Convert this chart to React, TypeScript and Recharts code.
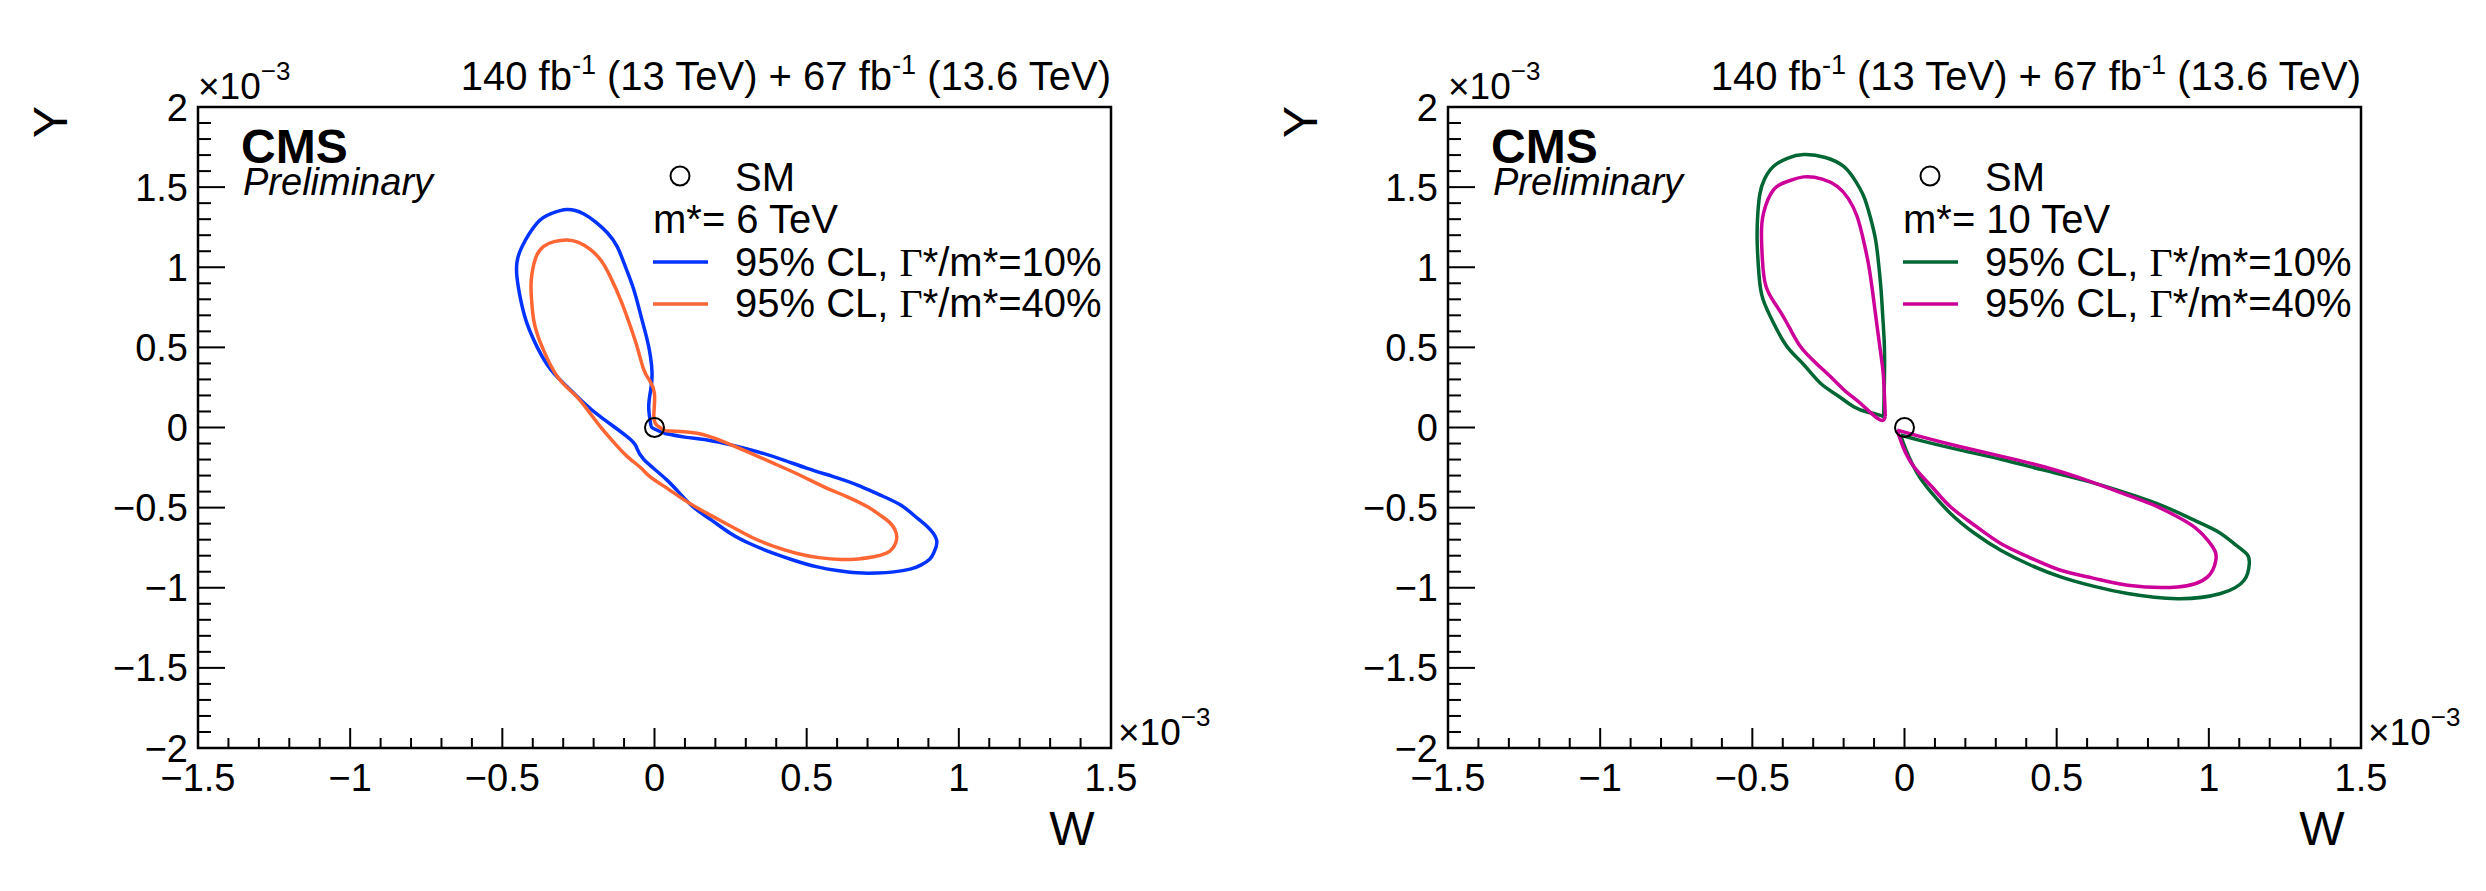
import React from "react";
import {
  ScatterChart,
  Scatter,
  XAxis,
  YAxis,
  ReferenceArea,
} from "recharts";

const font = "'Liberation Sans', Arial, Helvetica, sans-serif";

// ─── Axis ticks (units of 1e-3) ───────────────────────────────────────────────
const X_TICKS = [
  -1.5, -1.4, -1.3, -1.2, -1.1, -1.0, -0.9, -0.8, -0.7, -0.6, -0.5, -0.4, -0.3, -0.2, -0.1,
  0, 0.1, 0.2, 0.3, 0.4, 0.5, 0.6, 0.7, 0.8, 0.9, 1.0, 1.1, 1.2, 1.3, 1.4, 1.5,
];
const Y_TICKS = [
  -2.0, -1.9, -1.8, -1.7, -1.6, -1.5, -1.4, -1.3, -1.2, -1.1, -1.0, -0.9, -0.8, -0.7, -0.6,
  -0.5, -0.4, -0.3, -0.2, -0.1, 0, 0.1, 0.2, 0.3, 0.4, 0.5, 0.6, 0.7, 0.8, 0.9, 1.0, 1.1,
  1.2, 1.3, 1.4, 1.5, 1.6, 1.7, 1.8, 1.9, 2.0,
];

// ─── Contours, left panel (m* = 6 TeV) ───────────────────────────────────────
const CL95_6TEV_W10: [number, number][] = [
  [0.031, -0.036], [-0.005, -0.005], [-0.013, 0.026], [-0.019, 0.13], [-0.012, 0.24],
  [-0.008, 0.339], [-0.013, 0.44], [-0.024, 0.547], [-0.045, 0.7], [-0.068, 0.86],
  [-0.095, 1.0], [-0.123, 1.13], [-0.155, 1.215], [-0.189, 1.276], [-0.235, 1.335],
  [-0.287, 1.36], [-0.34, 1.335], [-0.386, 1.276], [-0.435, 1.13], [-0.452, 1.03],
  [-0.452, 0.94], [-0.44, 0.8], [-0.419, 0.65], [-0.385, 0.5], [-0.34, 0.36],
  [-0.276, 0.234], [-0.23, 0.15], [-0.178, 0.068], [-0.09, -0.057], [-0.06, -0.12],
  [-0.035, -0.2], [0.042, -0.33], [0.118, -0.48], [0.185, -0.575], [0.25, -0.661],
  [0.32, -0.73], [0.392, -0.786], [0.46, -0.83], [0.535, -0.87], [0.6, -0.893],
  [0.667, -0.907], [0.73, -0.908], [0.787, -0.901], [0.84, -0.884], [0.875, -0.859],
  [0.905, -0.82], [0.919, -0.776], [0.927, -0.703], [0.897, -0.62], [0.86, -0.56],
  [0.809, -0.484], [0.74, -0.42], [0.667, -0.359], [0.585, -0.305], [0.502, -0.255],
  [0.42, -0.2], [0.338, -0.151], [0.255, -0.11], [0.173, -0.078], [0.1, -0.06],
  [0.031, -0.036],
];

const CL95_6TEV_W40: [number, number][] = [
  [0.036, -0.02], [0.005, 0.02], [-0.002, 0.089], [0.0, 0.21], [-0.015, 0.29],
  [-0.035, 0.36], [-0.055, 0.49], [-0.079, 0.63], [-0.11, 0.79], [-0.145, 0.94],
  [-0.175, 1.04], [-0.21, 1.11], [-0.25, 1.155], [-0.287, 1.17], [-0.33, 1.16],
  [-0.364, 1.13], [-0.39, 1.06], [-0.405, 0.92], [-0.404, 0.8], [-0.397, 0.67],
  [-0.383, 0.57], [-0.364, 0.48], [-0.32, 0.32], [-0.265, 0.21], [-0.22, 0.11],
  [-0.178, 0.005], [-0.135, -0.09], [-0.09, -0.18], [-0.046, -0.25], [-0.013, -0.31],
  [0.042, -0.38], [0.096, -0.45], [0.173, -0.536], [0.245, -0.61], [0.316, -0.682],
  [0.39, -0.74], [0.469, -0.786], [0.54, -0.812], [0.612, -0.824], [0.67, -0.82],
  [0.721, -0.807], [0.76, -0.785], [0.782, -0.755], [0.796, -0.682], [0.776, -0.599],
  [0.74, -0.545], [0.7, -0.495], [0.63, -0.43], [0.557, -0.37], [0.475, -0.295],
  [0.392, -0.224], [0.31, -0.155], [0.228, -0.089], [0.14, -0.036], [0.036, -0.02],
];

// ─── Contours, right panel (m* = 10 TeV), two lobes each ────────────────────
const CL95_10TEV_W10_UP: [number, number][] = [
  [-0.068, 0.068], [-0.068, 0.109], [-0.066, 0.3], [-0.066, 0.505], [-0.071, 0.68],
  [-0.077, 0.859], [-0.085, 1.02], [-0.095, 1.172], [-0.112, 1.31], [-0.134, 1.443],
  [-0.165, 1.55], [-0.2, 1.63], [-0.26, 1.685], [-0.331, 1.703], [-0.385, 1.68],
  [-0.43, 1.63], [-0.46, 1.55], [-0.476, 1.45], [-0.483, 1.3], [-0.484, 1.15],
  [-0.478, 0.95], [-0.465, 0.8], [-0.43, 0.65], [-0.386, 0.505], [-0.33, 0.39],
  [-0.276, 0.276], [-0.22, 0.2], [-0.167, 0.13], [-0.12, 0.095], [-0.095, 0.085],
  [-0.068, 0.068],
];
const CL95_10TEV_W10_LOW: [number, number][] = [
  [-0.013, -0.047], [0.06, -0.085], [0.184, -0.141], [0.32, -0.2], [0.458, -0.266],
  [0.6, -0.335], [0.733, -0.411], [0.85, -0.49], [0.952, -0.578], [1.03, -0.65],
  [1.083, -0.724], [1.125, -0.79], [1.133, -0.849], [1.116, -0.953], [1.039, -1.036],
  [0.897, -1.068], [0.733, -1.036], [0.62, -0.99], [0.513, -0.932], [0.41, -0.855],
  [0.316, -0.766], [0.23, -0.66], [0.151, -0.536], [0.09, -0.41], [0.042, -0.286],
  [0.005, -0.14], [-0.013, -0.047],
];
const CL95_10TEV_W40_UP: [number, number][] = [
  [-0.063, 0.068], [-0.066, 0.2], [-0.07, 0.339], [-0.08, 0.49], [-0.09, 0.63],
  [-0.103, 0.82], [-0.117, 1.005], [-0.135, 1.17], [-0.156, 1.318], [-0.185, 1.43],
  [-0.221, 1.505], [-0.27, 1.55], [-0.331, 1.564], [-0.385, 1.535], [-0.43, 1.484],
  [-0.463, 1.339], [-0.47, 1.2], [-0.467, 1.05], [-0.455, 0.88], [-0.419, 0.755],
  [-0.38, 0.63], [-0.342, 0.505], [-0.29, 0.4], [-0.232, 0.297], [-0.19, 0.22],
  [-0.145, 0.151], [-0.084, 0.051], [-0.063, 0.068],
];
const CL95_10TEV_W40_LOW: [number, number][] = [
  [-0.024, -0.016], [0.06, -0.06], [0.184, -0.12], [0.32, -0.18], [0.458, -0.245],
  [0.6, -0.33], [0.733, -0.422], [0.82, -0.485], [0.897, -0.557], [0.955, -0.625],
  [0.996, -0.703], [1.02, -0.77], [1.023, -0.828], [0.996, -0.932], [0.897, -0.995],
  [0.733, -0.984], [0.62, -0.94], [0.513, -0.891], [0.41, -0.81], [0.316, -0.724],
  [0.23, -0.61], [0.151, -0.495], [0.09, -0.37], [0.031, -0.245], [-0.005, -0.12],
  [-0.024, -0.016],
];

const SM_POINT: [number, number][] = [[0, 0]];

const LEGEND_LABELS = ["95% CL, Γ*/m*=10%", "95% CL, Γ*/m*=40%"];

// ─── Layout ──────────────────────────────────────────────────────────────────
const H = 891;
const PLOT_LEFT = 198;
const PLOT_TOP = 107;
const PLOT_W = 913;
const PLOT_BOTTOM = 748;
const X_AXIS_H = 60;
const Y_AXIS_W = 80;

const toPts = (arr: [number, number][]) => arr.map(([x, y]) => ({ x, y }));

const isMajor = (v: number) => Math.abs(v * 2 - Math.round(v * 2)) < 1e-6;
const fmt = (v: number) => {
  const r = Math.round(v * 10) / 10;
  if (r === 0) return "0";
  return r < 0 ? `\u2212${Math.abs(r)}` : `${r}`;
};

function XTick({ x, y, payload }: any) {
  const v = payload.value;
  const major = isMajor(v);
  return (
    <g>
      <line x1={x} x2={x} y1={y} y2={y - (major ? 20 : 10)} stroke="#000" strokeWidth={2} />
      {major && (
        <text x={x} y={y + 43} textAnchor="middle" fontSize={38} fontFamily={font} fill="#000">
          {fmt(v)}
        </text>
      )}
    </g>
  );
}

function YTick({ x, y, payload }: any) {
  const v = payload.value;
  const major = isMajor(v);
  return (
    <g>
      <line x1={x} x2={x + (major ? 27 : 13)} y1={y} y2={y} stroke="#000" strokeWidth={2} />
      {major && (
        <text x={x - 10} y={y + 13.5} textAnchor="end" fontSize={38} fontFamily={font} fill="#000">
          {fmt(v)}
        </text>
      )}
    </g>
  );
}

const NoDot = () => <g />;

function SmMarker({ cx, cy }: any) {
  return <circle cx={cx} cy={cy} r={9.5} fill="none" stroke="#000" strokeWidth={2} />;
}

interface Curve {
  data: [number, number][];
  color: string;
}

function Panel({
  left,
  width,
  curves,
  mass,
  colors,
}: {
  left: number;
  width: number;
  curves: Curve[];
  mass: string;
  colors: string[];
}) {
  const plotRight = PLOT_LEFT + PLOT_W;
  return (
    <div style={{ position: "absolute", left, top: 0, width, height: H }}>
      <ScatterChart
        width={width}
        height={H}
        margin={{
          top: PLOT_TOP,
          right: width - plotRight,
          bottom: H - PLOT_BOTTOM - X_AXIS_H,
          left: PLOT_LEFT - Y_AXIS_W,
        }}
      >
        <XAxis
          type="number"
          dataKey="x"
          domain={[-1.5, 1.5]}
          ticks={X_TICKS}
          interval={0}
          height={X_AXIS_H}
          tickSize={0}
          tickMargin={0}
          axisLine={false}
          tickLine={false}
          tick={<XTick />}
          allowDataOverflow
        />
        <YAxis
          type="number"
          dataKey="y"
          domain={[-2, 2]}
          ticks={Y_TICKS}
          interval={0}
          width={Y_AXIS_W}
          tickSize={0}
          tickMargin={0}
          axisLine={false}
          tickLine={false}
          tick={<YTick />}
          allowDataOverflow
        />
        <ReferenceArea
          x1={-1.5}
          x2={1.5}
          y1={-2}
          y2={2}
          fill="none"
          fillOpacity={0}
          stroke="#000"
          strokeWidth={2.5}
          ifOverflow="visible"
        />
        {curves.map((c, i) => (
          <Scatter
            key={i}
            data={toPts(c.data)}
            line={{ stroke: c.color, strokeWidth: 3.5 }}
            lineJointType="natural"
            shape={<NoDot />}
            fill={c.color}
            isAnimationActive={false}
          />
        ))}
        <Scatter data={toPts(SM_POINT)} shape={<SmMarker />} isAnimationActive={false} />
      </ScatterChart>

      <svg
        width={width}
        height={H}
        style={{ position: "absolute", left: 0, top: 0, pointerEvents: "none" }}
        fontFamily={font}
      >
        {/* luminosity header */}
        <text x={plotRight} y={90} textAnchor="end" fontSize={40} fill="#000">
          140 fb
          <tspan dy={-16} fontSize={27}>-1</tspan>
          <tspan dy={16}> (13 TeV) + 67 fb</tspan>
          <tspan dy={-16} fontSize={27}>-1</tspan>
          <tspan dy={16}> (13.6 TeV)</tspan>
        </text>

        {/* axis exponents */}
        <text x={PLOT_LEFT} y={99} fontSize={37} fill="#000">
          ×10
          <tspan dy={-19} fontSize={26}>−3</tspan>
        </text>
        <text x={plotRight + 7} y={745} fontSize={37} fill="#000">
          ×10
          <tspan dy={-19} fontSize={26}>−3</tspan>
        </text>

        {/* axis titles */}
        <text x={67} y={122} fontSize={48} textAnchor="middle" transform="rotate(-90, 67, 122)" fill="#000">
          Y
        </text>
        <text x={1072} y={845} fontSize={48} textAnchor="middle" fill="#000">
          W
        </text>

        {/* CMS label */}
        <text x={241} y={163} fontSize={48} fontWeight="bold" fill="#000">
          CMS
        </text>
        <text x={243} y={195} fontSize={38} fontStyle="italic" fill="#000">
          Preliminary
        </text>

        {/* legend */}
        <circle cx={680} cy={176} r={9.5} fill="none" stroke="#000" strokeWidth={2} />
        <text x={735} y={191} fontSize={40} fill="#000">SM</text>
        <text x={653} y={233} fontSize={40} fill="#000">{`m*= ${mass} TeV`}</text>
        {LEGEND_LABELS.map((lab, i) => (
          <g key={lab}>
            <line x1={653} x2={708} y1={262 + i * 42} y2={262 + i * 42} stroke={colors[i]} strokeWidth={3.5} />
            <text x={735} y={276 + i * 41} fontSize={40} fill="#000">
              {lab.split("Γ")[0]}
              <tspan fontFamily="'Liberation Serif', 'Times New Roman', serif">Γ</tspan>
              {lab.split("Γ")[1]}
            </text>
          </g>
        ))}
      </svg>
    </div>
  );
}

const BLUE = "#0033ff";
const ORANGE = "#ff6633";
const GREEN = "#006633";
const MAGENTA = "#cc0099";

export default function App() {
  return (
    <div style={{ position: "absolute", left: 0, top: 0, width: 2486, height: H, background: "#fff" }}>
      <Panel
        left={0}
        width={1243}
        mass="6"
        colors={[BLUE, ORANGE]}
        curves={[
          { data: CL95_6TEV_W10, color: BLUE },
          { data: CL95_6TEV_W40, color: ORANGE },
        ]}
      />
      <Panel
        left={1250}
        width={1236}
        mass="10"
        colors={[GREEN, MAGENTA]}
        curves={[
          { data: CL95_10TEV_W10_UP, color: GREEN },
          { data: CL95_10TEV_W10_LOW, color: GREEN },
          { data: CL95_10TEV_W40_UP, color: MAGENTA },
          { data: CL95_10TEV_W40_LOW, color: MAGENTA },
        ]}
      />
    </div>
  );
}
